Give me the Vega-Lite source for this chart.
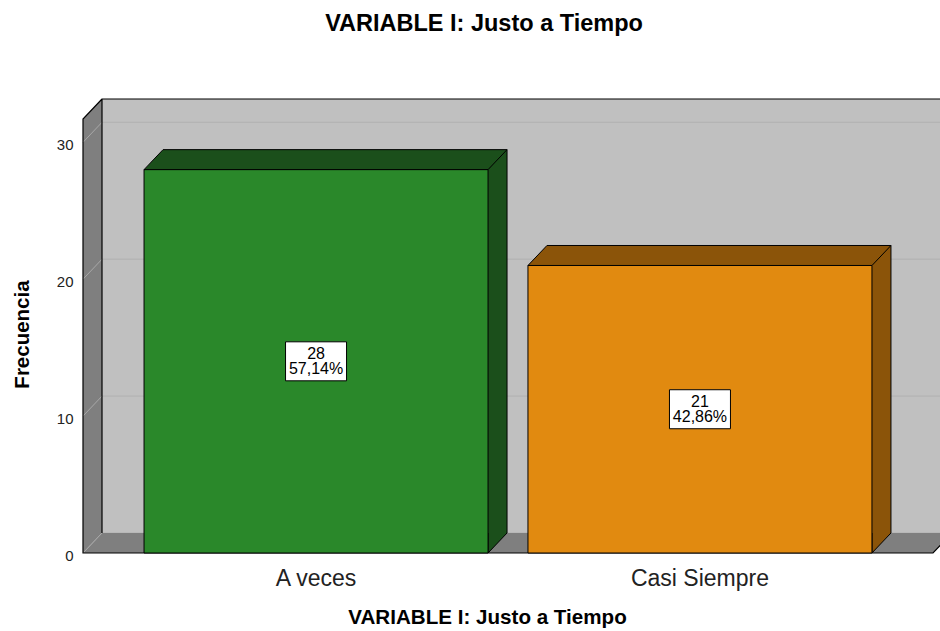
{
  "$schema": "https://vega.github.io/schema/vega-lite/v6.json",
  "width": 850,
  "height": 434,
  "autosize": {"type": "none"},
  "padding": {"left": 83, "top": 119, "right": 7, "bottom": 78},
  "background": "white",
  "config": {"view": {"stroke": null}, "font": "Liberation Sans"},
  "title": {"text": "VARIABLE I: Justo a Tiempo", "font": "Liberation Sans", "fontSize": 23.5, "fontWeight": "bold", "color": "black", "anchor": "middle", "frame": "group", "dx": -24, "baseline": "middle", "offset": 49},
  "data": {"values": [
    {"cat": "A veces", "value": 28, "pct": "57,14%"},
    {"cat": "Casi Siempre", "value": 21, "pct": "42,86%"}
  ]},
  "layer": [
    {
      "data": {"values": [{}]},
      "mark": {"type": "point", "shape": "M19,-20 L19,-454 L869,-454 L869,-20 Z", "size": 4, "filled": true, "fill": "#c0c0c0", "strokeWidth": 0, "opacity": 1},
      "encoding": {"x": {"value": 0}, "y": {"value": "height"}}
    },
    {
      "data": {"values": [0, 10, 20, 30]},
      "mark": {"type": "rule", "color": "#b0b0b0", "strokeWidth": 1, "xOffset": 19, "x2Offset": 19, "yOffset": -20},
      "encoding": {"x": {"value": 0}, "x2": {"value": "width"}, "y": {"field": "data", "type": "quantitative", "axis": null, "scale": {"domain": [0, 31.7], "nice": false}}}
    },
    {
      "data": {"values": [{}]},
      "mark": {"type": "point", "shape": "M0,0 L0,-434 L19,-454 L19,-20 Z", "size": 4, "filled": true, "fill": "#7f7f7f", "strokeWidth": 0, "opacity": 1},
      "encoding": {"x": {"value": 0}, "y": {"value": "height"}}
    },
    {
      "data": {"values": [{}]},
      "mark": {"type": "point", "shape": "M0,0 L850,0 L869,-20 L19,-20 Z", "size": 4, "filled": true, "fill": "#7f7f7f", "strokeWidth": 0, "opacity": 1},
      "encoding": {"x": {"value": 0}, "y": {"value": "height"}}
    },
    {
      "data": {"values": [0, 10, 20, 30]},
      "mark": {"type": "rule", "color": "#a8a8a8", "strokeWidth": 1, "x2Offset": 19, "y2Offset": -20},
      "encoding": {"x": {"value": 0}, "x2": {"value": 0}, "y": {"field": "data", "type": "quantitative", "axis": null, "scale": {"domain": [0, 31.7], "nice": false}}, "y2": {"field": "data"}}
    },
    {
      "data": {"values": [{}]},
      "mark": {"type": "point", "shape": "M19,-20 L19,-454 L869,-454 M19,-454 L0,-434 L0,0 L850,0 L869,-20", "size": 4, "filled": false, "stroke": "black", "strokeWidth": 1.2, "opacity": 1},
      "encoding": {"x": {"value": 0}, "y": {"value": "height"}}
    },
    {
      "mark": {"type": "bar", "xOffset": 19, "yOffset": -20, "y2Offset": -20, "strokeWidth": 0},
      "encoding": {
        "x": {"field": "cat", "type": "nominal", "axis": null, "scale": {"paddingInner": 0.104, "paddingOuter": 0.159, "round": false}},
        "y": {"field": "value", "type": "quantitative", "axis": null, "scale": {"domain": [0, 31.7], "nice": false}},
        "fill": {"condition": {"test": "datum.cat === 'A veces'", "value": "#1b4f1b"}, "value": "#8b5409"}
      }
    },
    {
      "mark": {"type": "point", "shape": "M0,0 L19,-20 L363,-20 L344,0 Z", "size": 4, "filled": true, "stroke": "black", "strokeWidth": 1, "opacity": 1},
      "encoding": {
        "x": {"field": "cat", "type": "nominal", "bandPosition": 0, "axis": null, "scale": {"type": "band", "paddingInner": 0.104, "paddingOuter": 0.159, "round": false}},
        "y": {"field": "value", "type": "quantitative", "axis": null, "scale": {"domain": [0, 31.7], "nice": false}},
        "fill": {"condition": {"test": "datum.cat === 'A veces'", "value": "#1b4f1b"}, "value": "#8b5409"}
      }
    },
    {
      "mark": {"type": "rule", "color": "black", "strokeWidth": 1, "xOffset": 19, "yOffset": -20, "y2Offset": -20},
      "encoding": {
        "x": {"field": "cat", "type": "nominal", "bandPosition": 1, "axis": null, "scale": {"type": "band", "paddingInner": 0.104, "paddingOuter": 0.159, "round": false}},
        "y": {"field": "value", "type": "quantitative", "axis": null, "scale": {"domain": [0, 31.7], "nice": false}},
        "y2": {"datum": 0}
      }
    },
    {
      "mark": {"type": "point", "shape": "M0,-20 L0,0 L19,-20", "size": 4, "filled": true, "stroke": "black", "strokeWidth": 1, "opacity": 1},
      "encoding": {
        "x": {"field": "cat", "type": "nominal", "bandPosition": 1, "axis": null, "scale": {"type": "band", "paddingInner": 0.104, "paddingOuter": 0.159, "round": false}},
        "y": {"datum": 0, "type": "quantitative", "axis": null, "scale": {"domain": [0, 31.7], "nice": false}},
        "fill": {"condition": {"test": "datum.cat === 'A veces'", "value": "#1b4f1b"}, "value": "#8b5409"}
      }
    },
    {
      "mark": {"type": "bar", "stroke": "black", "strokeWidth": 1},
      "encoding": {
        "x": {"field": "cat", "type": "nominal",
          "scale": {"paddingInner": 0.104, "paddingOuter": 0.159, "round": false},
          "axis": {"title": "VARIABLE I: Justo a Tiempo", "titleFont": "Liberation Sans", "titleFontSize": 20.6, "titleFontWeight": "bold", "titleColor": "black", "titleX": 404, "titleY": 64, "titleBaseline": "middle", "titleAlign": "center",
            "labelFont": "Liberation Sans", "labelFontSize": 23, "labelColor": "#222222", "labelPadding": 14, "labelAngle": 0, "ticks": false, "domain": false, "grid": false}},
        "y": {"field": "value", "type": "quantitative",
          "scale": {"domain": [0, 31.7], "nice": false, "zero": true},
          "axis": {"title": "Frecuencia", "titleFont": "Liberation Sans", "titleFontSize": 20.5, "titleFontWeight": "bold", "titleColor": "black", "titleX": -61, "titleY": 215, "titleAngle": -90, "titleBaseline": "middle", "titleAlign": "center",
            "values": [0, 10, 20, 30], "labelFont": "Liberation Sans", "labelFontSize": 15, "labelColor": "#222222", "labelPadding": 10, "labelOffset": 2, "ticks": false, "domain": false, "grid": false}},
        "fill": {"condition": {"test": "datum.cat === 'A veces'", "value": "#2a882a"}, "value": "#e18a10"}
      }
    },
    {
      "mark": {"type": "point", "shape": "M-30.5,-19.5 L30.5,-19.5 L30.5,19.5 L-30.5,19.5 Z", "size": 4, "filled": true, "fill": "white", "stroke": "black", "strokeWidth": 1, "opacity": 1},
      "encoding": {
        "x": {"field": "cat", "type": "nominal", "axis": null, "scale": {"type": "band", "paddingInner": 0.104, "paddingOuter": 0.159, "round": false}},
        "y": {"field": "value", "type": "quantitative", "axis": null, "scale": {"domain": [0, 63.4], "nice": false}}
      }
    },
    {
      "mark": {"type": "text", "font": "Liberation Sans", "fontSize": 16, "color": "black", "baseline": "middle", "dy": -7.5},
      "encoding": {
        "x": {"field": "cat", "type": "nominal", "axis": null, "scale": {"type": "band", "paddingInner": 0.104, "paddingOuter": 0.159, "round": false}},
        "y": {"field": "value", "type": "quantitative", "axis": null, "scale": {"domain": [0, 63.4], "nice": false}},
        "text": {"field": "value", "type": "quantitative"}
      }
    },
    {
      "mark": {"type": "text", "font": "Liberation Sans", "fontSize": 16, "color": "black", "baseline": "middle", "dy": 8},
      "encoding": {
        "x": {"field": "cat", "type": "nominal", "axis": null, "scale": {"type": "band", "paddingInner": 0.104, "paddingOuter": 0.159, "round": false}},
        "y": {"field": "value", "type": "quantitative", "axis": null, "scale": {"domain": [0, 63.4], "nice": false}},
        "text": {"field": "pct", "type": "nominal"}
      }
    }
  ],
  "resolve": {"scale": {"x": "independent", "y": "independent"}}
}
